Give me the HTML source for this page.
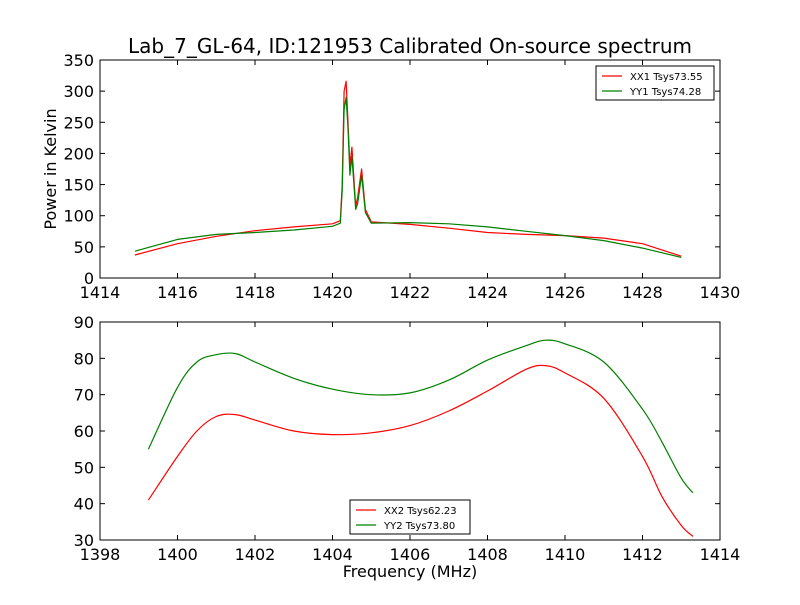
<!DOCTYPE html>
<html><head><meta charset="utf-8"><style>
body{margin:0;background:#fff}
svg{font-family:"DejaVu Sans","Liberation Sans",sans-serif}
</style></head><body>
<svg id="c" width="800" height="600">
<rect width="800" height="600" fill="#fff"/>
<text x="410" y="53" font-size="20" text-anchor="middle">Lab_7_GL-64, ID:121953 Calibrated On-source spectrum</text>
<text transform="translate(56,169) rotate(-90)" font-size="16" text-anchor="middle">Power in Kelvin</text>
<text x="410" y="577" font-size="16" text-anchor="middle">Frequency (MHz)</text>
</svg>
<script>
const topXTicks=[1414,1416,1418,1420,1422,1424,1426,1428,1430];
const topYTicks=[0,50,100,150,200,250,300,350];
const botXTicks=[1398,1400,1402,1404,1406,1408,1410,1412,1414];
const botYTicks=[30,40,50,60,70,80,90];
const xx1F=[1414.9,1416,1417,1418,1419,1420,1420.2,1420.25,1420.3,1420.35,1420.4,1420.45,1420.5,1420.6,1420.65,1420.75,1420.85,1421,1422,1423,1424,1425,1426,1426.5,1427,1428,1429];
const xx1V=[37,55,67,76,82,87,92,150,300,316,250,180,210,115,130,175,110,90,86,80,73,70,68,66,64,55,35];
const yy1F=[1414.9,1416,1417,1418,1419,1420,1420.2,1420.25,1420.3,1420.35,1420.4,1420.45,1420.5,1420.6,1420.65,1420.75,1420.85,1421,1422,1423,1424,1425,1426,1427,1428,1429];
const yy1V=[43,62,70,73,77,83,88,140,270,290,240,165,195,110,120,165,105,88,89,87,82,75,68,60,48,33];
const xx2F=[1399.25,1400,1400.5,1401,1401.5,1402,1403,1404,1405,1406,1407,1408,1409,1409.5,1410,1411,1412,1412.5,1413,1413.3];
const xx2V=[41,53,60,64,64.5,63,60,59,59.5,61.5,65.5,71,77,78,76,69,53,42,34,31];
const yy2F=[1399.25,1400,1400.5,1401,1401.5,1402,1403,1404,1405,1406,1407,1408,1409,1409.5,1410,1411,1412,1412.5,1413,1413.3];
const yy2V=[55,72,79,81,81.3,79,74.5,71.5,70,70.5,74,79.5,83.5,85,84,79,66,57,47,43];

const NS="http://www.w3.org/2000/svg",svg=document.getElementById('c');
function mk(t,a,p){const e=document.createElementNS(NS,t);for(const k in a)e.setAttribute(k,a[k]);(p||svg).appendChild(e);return e;}
function smoothPath(P){
  let d='M'+P[0][0].toFixed(1)+','+P[0][1].toFixed(1);
  for(let i=0;i<P.length-1;i++){
    const p0=P[Math.max(0,i-1)],p1=P[i],p2=P[i+1],p3=P[Math.min(P.length-1,i+2)];
    const c1=[p1[0]+(p2[0]-p0[0])/6,p1[1]+(p2[1]-p0[1])/6];
    const c2=[p2[0]-(p3[0]-p1[0])/6,p2[1]-(p3[1]-p1[1])/6];
    d+=' C'+c1.map(v=>v.toFixed(1))+' '+c2.map(v=>v.toFixed(1))+' '+p2.map(v=>v.toFixed(1));
  }
  return d;
}
function panel(name,box,xd,yd,xt,yt,series,leg,smooth){
  const sx=v=>box.x+(v-xd[0])/(xd[1]-xd[0])*box.w;
  const sy=v=>box.y+box.h-(v-yd[0])/(yd[1]-yd[0])*box.h;
  const g=mk('g',{});
  
  
  series.forEach(s=>{
    const P=s.f.map((f,i)=>[sx(f),sy(s.v[i])]);
    let l;
    if(smooth) l=mk('path',{d:smoothPath(P),fill:'none',stroke:s.c,'stroke-width':1.2},g);
    else l=mk('polyline',{points:P.map(p=>p[0].toFixed(1)+','+p[1].toFixed(1)).join(' '),fill:'none',stroke:s.c,'stroke-width':1.2,'stroke-linejoin':'round'},g);
    
    
  });
  xt.forEach(t=>{const x=sx(t);
    mk('line',{x1:x,x2:x,y1:box.y+box.h,y2:box.y+box.h-5,stroke:'#000'},g);
    mk('line',{x1:x,x2:x,y1:box.y,y2:box.y+5,stroke:'#000'},g);
    const tx=mk('text',{x:x,y:box.y+box.h+20,'font-size':16,'text-anchor':'middle'},g);tx.textContent=t;
    
    });
  yt.forEach(t=>{const y=sy(t);
    mk('line',{x1:box.x,x2:box.x+5,y1:y,y2:y,stroke:'#000'},g);
    mk('line',{x1:box.x+box.w,x2:box.x+box.w-5,y1:y,y2:y,stroke:'#000'},g);
    const tx=mk('text',{x:box.x-6,y:y+6,'font-size':16,'text-anchor':'end'},g);tx.textContent=t;
    
    });
  mk('rect',{x:box.x,y:box.y,width:box.w,height:box.h,fill:'none',stroke:'#000'},g);
  const lg=mk('g',{},g);
  
  
  mk('rect',{x:leg.x,y:leg.y,width:leg.w,height:34,fill:'#fff',stroke:'#000'},lg);
  series.forEach((s,i)=>{const y=leg.y+10+i*15;
    mk('line',{x1:leg.x+6,x2:leg.x+26,y1:y,y2:y,stroke:s.c,'stroke-width':1.2},lg);
    const tx=mk('text',{x:leg.x+34,y:y+4,'font-size':10},lg);tx.textContent=s.label;
    
    });
}
panel('top-panel',{x:100,y:60,w:620,h:218},[1414,1430],[0,350],topXTicks,topYTicks,
 [{f:xx1F,v:xx1V,c:'#ff0000',n:'xx1-line',label:'XX1 Tsys73.55'},{f:yy1F,v:yy1V,c:'#008000',n:'yy1-line',label:'YY1 Tsys74.28'}],{x:596,y:66,w:118},false);
panel('bottom-panel',{x:100,y:322,w:620,h:218},[1398,1414],[30,90],botXTicks,botYTicks,
 [{f:xx2F,v:xx2V,c:'#ff0000',n:'xx2-line',label:'XX2 Tsys62.23'},{f:yy2F,v:yy2V,c:'#008000',n:'yy2-line',label:'YY2 Tsys73.80'}],{x:350,y:500,w:120},true);
</script>
</body></html>
